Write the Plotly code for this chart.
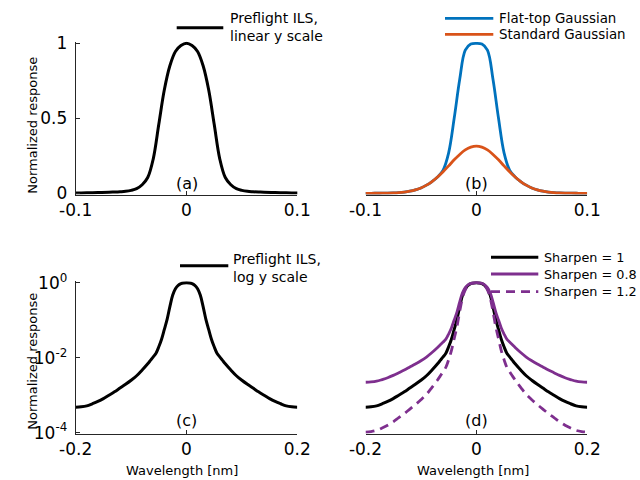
import plotly.graph_objects as go

# ---------------- data ----------------
wavelength_nm = [-0.20, -0.19, -0.18, -0.17, -0.16, -0.15, -0.14, -0.13, -0.12, -0.11,
                 -0.10, -0.09, -0.08, -0.07, -0.065, -0.06, -0.055, -0.05, -0.045, -0.04,
                 -0.035, -0.03, -0.025, -0.02, -0.015, -0.01, -0.005, 0.0,
                 0.005, 0.01, 0.015, 0.02, 0.025, 0.03, 0.035, 0.04, 0.045, 0.05,
                 0.055, 0.06, 0.065, 0.07, 0.08, 0.09, 0.10, 0.11, 0.12, 0.13,
                 0.14, 0.15, 0.16, 0.17, 0.18, 0.19, 0.20]

preflight_ils = [0.00048, 0.00049, 0.00052, 0.00059, 0.00068, 0.00081, 0.0010, 0.00123, 0.00155, 0.00195,
                 0.0025, 0.0033, 0.0047, 0.0069, 0.0085, 0.0105, 0.0132, 0.0195, 0.031, 0.057,
                 0.105, 0.23, 0.46, 0.69, 0.85, 0.945, 0.985, 1.0,
                 0.985, 0.945, 0.85, 0.69, 0.46, 0.23, 0.105, 0.057, 0.031, 0.0195,
                 0.0132, 0.0105, 0.0085, 0.0069, 0.0047, 0.0033, 0.0025, 0.00195, 0.00155, 0.00123,
                 0.0010, 0.00081, 0.00068, 0.00059, 0.00052, 0.00049, 0.00048]

sharpen_08 = [0.00221, 0.00225, 0.00236, 0.00261, 0.00292, 0.00337, 0.00398, 0.00470, 0.00565, 0.00679,
              0.00828, 0.0104, 0.0137, 0.0187, 0.0221, 0.0261, 0.0313, 0.0428, 0.0621, 0.101,
              0.165, 0.308, 0.537, 0.743, 0.878, 0.956, 0.988, 1.0,
              0.988, 0.956, 0.878, 0.743, 0.537, 0.308, 0.165, 0.101, 0.0621, 0.0428,
              0.0313, 0.0261, 0.0221, 0.0187, 0.0137, 0.0104, 0.00828, 0.00679, 0.00565, 0.00470,
              0.00398, 0.00337, 0.00292, 0.00261, 0.00236, 0.00225, 0.00221]

sharpen_12 = [0.000104, 0.000107, 0.000115, 0.000133, 0.000158, 0.000195, 0.000251, 0.000322, 0.000425, 0.000560,
              0.000755, 0.00105, 0.00161, 0.00255, 0.00327, 0.00422, 0.00556, 0.00887, 0.0155, 0.0322,
              0.0669, 0.171, 0.394, 0.641, 0.823, 0.934, 0.982, 1.0,
              0.982, 0.934, 0.823, 0.641, 0.394, 0.171, 0.0669, 0.0322, 0.0155, 0.00887,
              0.00556, 0.00422, 0.00327, 0.00255, 0.00161, 0.00105, 0.000755, 0.000560, 0.000425, 0.000322,
              0.000251, 0.000195, 0.000158, 0.000133, 0.000115, 0.000107, 0.000104]

gauss_x = [-0.1, -0.095, -0.09, -0.085, -0.08, -0.075, -0.07, -0.065, -0.06, -0.055,
           -0.05, -0.045, -0.04, -0.035, -0.03, -0.025, -0.02, -0.015, -0.01, -0.005,
           0.0, 0.005, 0.01, 0.015, 0.02, 0.025, 0.03, 0.035, 0.04, 0.045,
           0.05, 0.055, 0.06, 0.065, 0.07, 0.075, 0.08, 0.085, 0.09, 0.095, 0.1]

flat_top_gaussian = [0.00005, 0.0001, 0.0003, 0.0006, 0.0012, 0.0024, 0.0045, 0.0080, 0.0138, 0.0228,
                     0.0359, 0.0543, 0.0786, 0.109, 0.155, 0.27, 0.50, 0.76, 0.955, 0.995,
                     1.0, 0.995, 0.955, 0.76, 0.50, 0.27, 0.155, 0.109, 0.0786, 0.0543,
                     0.0359, 0.0228, 0.0138, 0.0080, 0.0045, 0.0024, 0.0012, 0.0006, 0.0003, 0.0001, 0.00005]

standard_gaussian = [0.00005, 0.0001, 0.0003, 0.0006, 0.0012, 0.0024, 0.0045, 0.0080, 0.0138, 0.0228,
                     0.0359, 0.0543, 0.0786, 0.109, 0.144, 0.183, 0.223, 0.259, 0.289, 0.308,
                     0.315, 0.308, 0.289, 0.259, 0.223, 0.183, 0.144, 0.109, 0.0786, 0.0543,
                     0.0359, 0.0228, 0.0138, 0.0080, 0.0045, 0.0024, 0.0012, 0.0006, 0.0003, 0.0001, 0.00005]

x_ticks_top = [-0.1, 0, 0.1]
x_ticks_top_text = ["-0.1", "0", "0.1"]
x_ticks_bot = [-0.2, 0, 0.2]
x_ticks_bot_text = ["-0.2", "0", "0.2"]
y_ticks_lin = [0, 0.5, 1]
y_ticks_lin_text = ["0", "0.5", "1"]
y_ticks_log = [1e-4, 1e-2, 1]
y_ticks_log_text = ["10<sup>-4</sup>", "10<sup>-2</sup>", "10<sup>0</sup>"]

# ---------------- styling ----------------
W, H = 640, 480
FONT = "DejaVu Sans"
AX = "#262626"
BLUE = "#0072BD"
ORANGE = "#D95319"
PURPLE = "#7E2F8E"
TICK_FONT = 17
LABEL_FONT = 13
PANEL_FONT = 16


def fx(p):
    return p / W


def fy(p):
    return 1 - p / H


fig = go.Figure()

# panel geometry in pixels
XA = (75.7, 297.3)
XB = (365.5, 587.2)
Y_TOP = (41.5, 194.5)
Y_BOT = (281.2, 433.8)


def add_line(x, y, xa, ya, color, width, dash="solid"):
    fig.add_trace(go.Scatter(x=x, y=y, xaxis=xa, yaxis=ya, mode="lines",
                             line=dict(color=color, width=width, dash=dash, shape="spline", smoothing=1.0),
                             showlegend=False, hoverinfo="skip"))


add_line(wavelength_nm, preflight_ils, "x", "y", "black", 3)
add_line(gauss_x, flat_top_gaussian, "x2", "y2", BLUE, 2.8)
add_line(gauss_x, standard_gaussian, "x2", "y2", ORANGE, 2.8)
add_line(wavelength_nm, preflight_ils, "x3", "y3", "black", 3)
add_line(wavelength_nm, preflight_ils, "x4", "y4", "black", 3)
add_line(wavelength_nm, sharpen_08, "x4", "y4", PURPLE, 2.8)
add_line(wavelength_nm, sharpen_12, "x4", "y4", PURPLE, 2.8, dash="9px,6px")

common_x = dict(showgrid=False, zeroline=False, showline=True, linecolor=AX, linewidth=1,
                ticks="inside", ticklen=4, tickcolor=AX, tickwidth=1, automargin=False,
                tickfont=dict(family=FONT, size=TICK_FONT, color="black"), mirror=False)
common_y = dict(showgrid=False, zeroline=False, showline=True, linecolor=AX, linewidth=1,
                ticks="inside", ticklen=4, tickcolor=AX, tickwidth=1, automargin=False,
                ticklabelstandoff=4,
                tickfont=dict(family=FONT, size=TICK_FONT, color="black"), mirror=False)

fig.update_layout(
    width=W, height=H, margin=dict(l=0, r=0, t=0, b=0, autoexpand=False),
    paper_bgcolor="white", plot_bgcolor="white",
    font=dict(family=FONT, color="black"),
    xaxis=dict(common_x, domain=[fx(XA[0]), fx(XA[1])], range=[-0.1, 0.1], anchor="y",
               tickvals=x_ticks_top, ticktext=x_ticks_top_text),
    yaxis=dict(common_y, domain=[fy(Y_TOP[1]), fy(Y_TOP[0])], range=[-0.008, 1.012], anchor="x",
               tickvals=y_ticks_lin, ticktext=y_ticks_lin_text),
    xaxis2=dict(common_x, domain=[fx(XB[0]), fx(XB[1])], range=[-0.1, 0.1], anchor="y2",
                tickvals=x_ticks_top, ticktext=x_ticks_top_text),
    yaxis2=dict(domain=[fy(Y_TOP[1]), fy(Y_TOP[0])], range=[-0.008, 1.012], anchor="x2",
                visible=False, automargin=False),
    xaxis3=dict(common_x, domain=[fx(XA[0]), fx(XA[1])], range=[-0.2, 0.2], anchor="y3",
                tickvals=x_ticks_bot, ticktext=x_ticks_bot_text),
    yaxis3=dict(common_y, type="log", domain=[fy(Y_BOT[1]), fy(Y_BOT[0])], range=[-4.03, 0.04], anchor="x3",
                tickvals=y_ticks_log, ticktext=y_ticks_log_text),
    xaxis4=dict(common_x, domain=[fx(XB[0]), fx(XB[1])], range=[-0.2, 0.2], anchor="y4",
                tickvals=x_ticks_bot, ticktext=x_ticks_bot_text),
    yaxis4=dict(type="log", domain=[fy(Y_BOT[1]), fy(Y_BOT[0])], range=[-4.03, 0.04], anchor="x4",
                visible=False, automargin=False),
)


def note(text, x, y, size, xanchor="center", yanchor="middle", angle=0):
    fig.add_annotation(text=text, x=fx(x), y=fy(y), xref="paper", yref="paper",
                       showarrow=False, xanchor=xanchor, yanchor=yanchor, textangle=angle,
                       font=dict(family=FONT, size=size, color="black"), align="left",
                       borderpad=0)


def seg(x0, x1, y, color, width=3, dash="solid"):
    fig.add_shape(type="line", xref="paper", yref="paper", x0=fx(x0), x1=fx(x1), y0=fy(y), y1=fy(y),
                  line=dict(color=color, width=width, dash=dash))


# axis titles
note("Normalized response", 31.7, 125, LABEL_FONT, angle=-90)
note("Normalized response", 31.7, 361, LABEL_FONT, angle=-90)
note("Wavelength [nm]", 182, 470, LABEL_FONT)
note("Wavelength [nm]", 472.5, 470, LABEL_FONT)

# panel labels
note("(a)", 186.5, 183.5, PANEL_FONT)
note("(b)", 476.3, 183.5, PANEL_FONT)
note("(c)", 186.5, 420, PANEL_FONT)
note("(d)", 476.3, 420, PANEL_FONT)

# legends
seg(176.7, 223.3, 27.7, "black")
note("Preflight ILS,<br>linear y scale", 229, 27.5, 14, xanchor="left")

seg(445, 493.3, 18.3, BLUE, 2.8)
seg(445, 493.3, 34.3, ORANGE, 2.8)
note("Flat-top Gaussian", 498.3, 18.3, 13.4, xanchor="left")
note("Standard Gaussian", 498.3, 34.3, 13.4, xanchor="left")

seg(180, 228.3, 265.7, "black")
note("Preflight ILS,<br>log y scale", 231.7, 267.5, 14, xanchor="left")

seg(491, 538.3, 257.3, "black")
seg(491, 538.3, 274, PURPLE, 2.8)
seg(491, 538.3, 291.7, PURPLE, 2.8, dash="9px,6px")
note("Sharpen = 1", 542.7, 257.3, 12.8, xanchor="left")
note("Sharpen = 0.8", 542.7, 274, 12.8, xanchor="left")
note("Sharpen = 1.2", 542.7, 291.7, 12.8, xanchor="left")

fig.write_html("out.html")
